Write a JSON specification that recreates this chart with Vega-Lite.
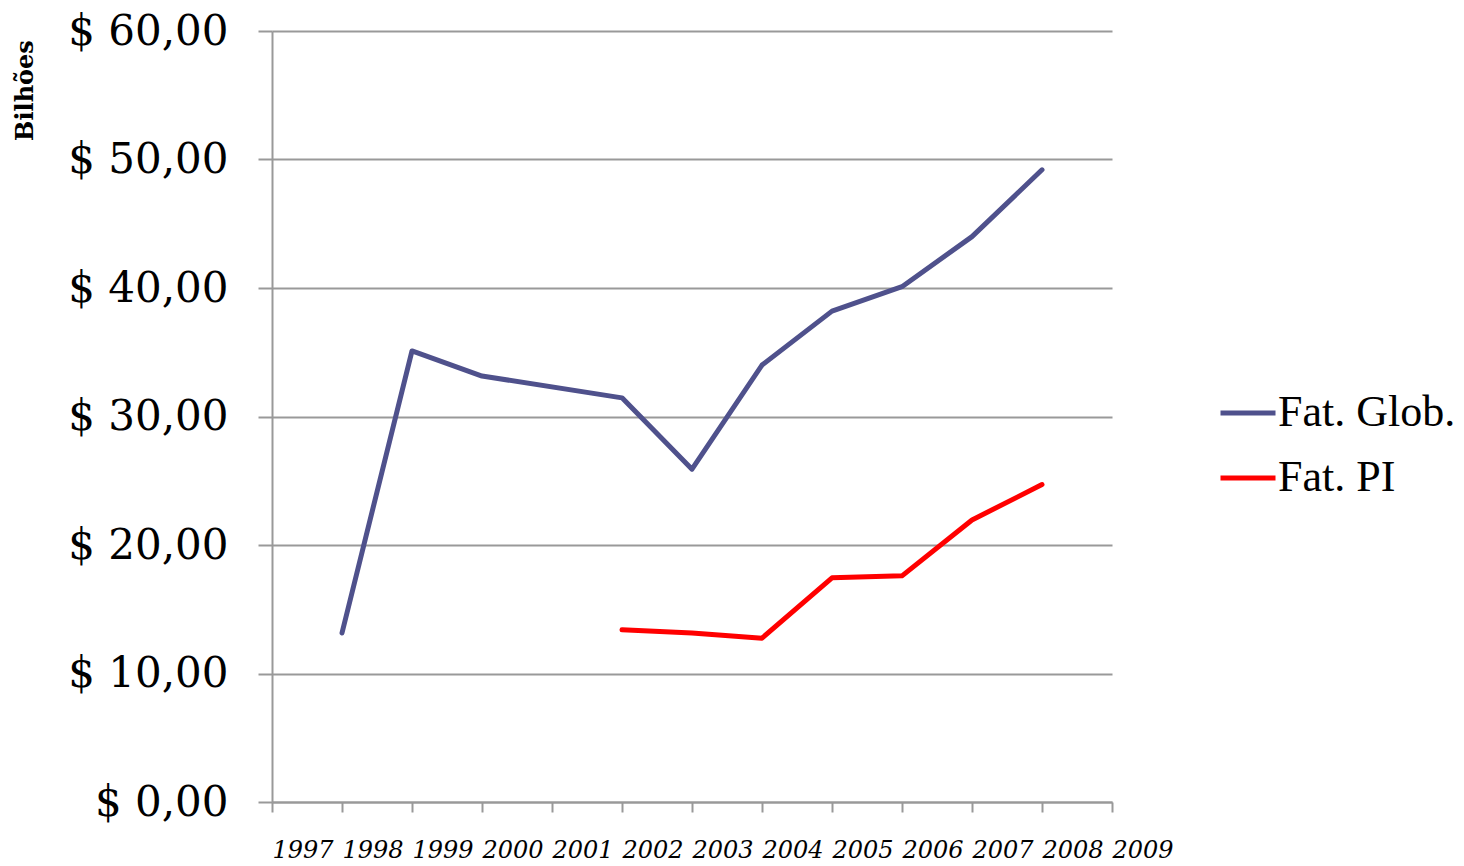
{
  "$schema": "https://vega.github.io/schema/vega-lite/v6.json",
  "width": 840,
  "height": 771,
  "autosize": "none",
  "padding": {"left": 272, "top": 31, "right": 352, "bottom": 64},
  "background": "white",
  "config": {"view": {"stroke": null}},
  "data": {
    "values": [
      {"year": 1998, "series": "Fat. Glob.", "value": 13.15},
      {"year": 1999, "series": "Fat. Glob.", "value": 35.1},
      {"year": 2000, "series": "Fat. Glob.", "value": 33.15},
      {"year": 2002, "series": "Fat. Glob.", "value": 31.45},
      {"year": 2003, "series": "Fat. Glob.", "value": 25.9},
      {"year": 2004, "series": "Fat. Glob.", "value": 34.0},
      {"year": 2005, "series": "Fat. Glob.", "value": 38.2},
      {"year": 2006, "series": "Fat. Glob.", "value": 40.1},
      {"year": 2007, "series": "Fat. Glob.", "value": 44.0},
      {"year": 2008, "series": "Fat. Glob.", "value": 49.2},
      {"year": 2002, "series": "Fat. PI", "value": 13.4},
      {"year": 2003, "series": "Fat. PI", "value": 13.15},
      {"year": 2004, "series": "Fat. PI", "value": 12.75},
      {"year": 2005, "series": "Fat. PI", "value": 17.45},
      {"year": 2006, "series": "Fat. PI", "value": 17.6},
      {"year": 2007, "series": "Fat. PI", "value": 21.95},
      {"year": 2008, "series": "Fat. PI", "value": 24.7}
    ]
  },
  "mark": {"type": "line", "strokeWidth": 5, "strokeCap": "round", "strokeJoin": "round"},
  "encoding": {
    "x": {
      "field": "year",
      "type": "quantitative",
      "scale": {"domain": [1997, 2009], "nice": false, "zero": false},
      "axis": {
        "title": null,
        "values": [1997, 1998, 1999, 2000, 2001, 2002, 2003, 2004, 2005, 2006, 2007, 2008, 2009],
        "format": "d",
        "grid": false,
        "domainColor": "#999999",
        "domainWidth": 2,
        "tickColor": "#999999",
        "tickWidth": 2,
        "tickSize": 10,
        "labelAlign": "left",
        "labelBaseline": "top",
        "labelPadding": 26,
        "labelFont": "DejaVu Serif",
        "labelFontStyle": "italic",
        "labelFontSize": 24,
        "labelColor": "black",
        "labelOverlap": false,
        "labelFlush": false,
        "labelBound": false
      }
    },
    "y": {
      "field": "value",
      "type": "quantitative",
      "scale": {"domain": [0, 60], "nice": false},
      "axis": {
        "title": "Bilhões",
        "titleFont": "DejaVu Serif",
        "titleFontSize": 24,
        "titleFontWeight": "bold",
        "titleColor": "black",
        "titleAngle": 270,
        "titleX": -247,
        "titleY": 59,
        "titleAlign": "center",
        "titleBaseline": "middle",
        "values": [0, 10, 20, 30, 40, 50, 60],
        "labelExpr": "'$ ' + replace(format(datum.value, '.2f'), '.', ',')",
        "grid": true,
        "gridColor": "#999999",
        "gridWidth": 2,
        "domainColor": "#999999",
        "domainWidth": 2,
        "tickColor": "#999999",
        "tickWidth": 2,
        "tickSize": 14,
        "labelPadding": 30,
        "labelFont": "DejaVu Serif",
        "labelFontSize": 42,
        "labelColor": "black",
        "labelBaseline": "middle",
        "labelOverlap": false,
        "labelFlush": false,
        "labelBound": false
      }
    },
    "color": {
      "field": "series",
      "type": "nominal",
      "scale": {"domain": ["Fat. Glob.", "Fat. PI"], "range": ["#4f518c", "#ff0000"]},
      "legend": {
        "title": null,
        "orient": "none",
        "legendX": 946,
        "legendY": 352,
        "padding": 0,
        "symbolType": "stroke",
        "symbolSize": 3025,
        "symbolStrokeWidth": 5,
        "labelFont": "Liberation Serif",
        "labelFontSize": 44,
        "labelColor": "black",
        "labelOffset": 0,
        "rowPadding": 13,
        "labelLimit": 400
      }
    }
  }
}
